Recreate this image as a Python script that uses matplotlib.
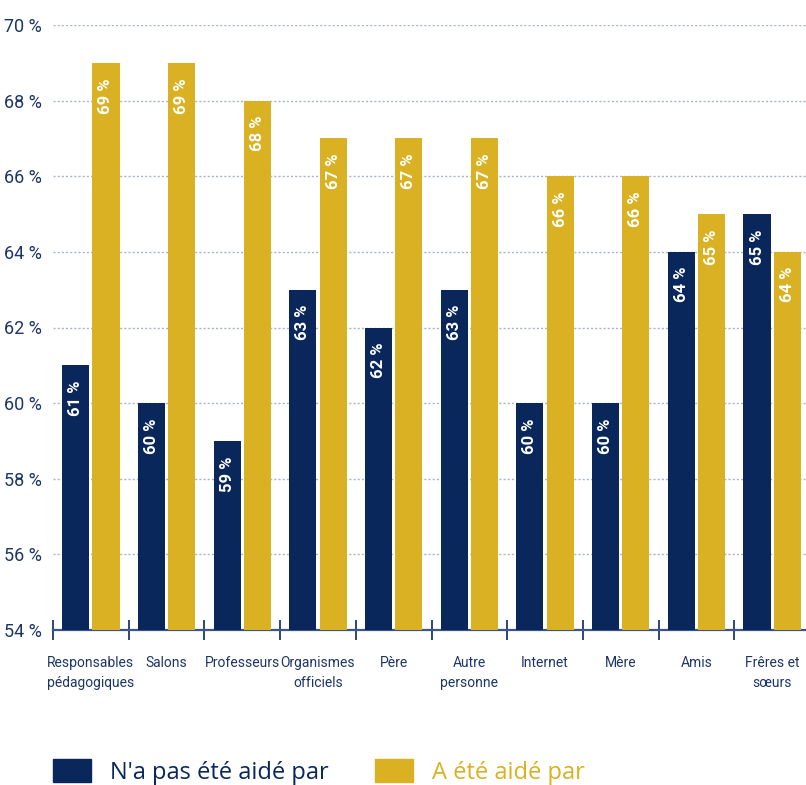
import matplotlib

matplotlib.use("Agg")
import matplotlib.pyplot as plt
import numpy as np
from matplotlib.patches import Rectangle

NAVY = "#0a275c"
GOLD = "#d9b122"
TXT = "#1d3566"

plt.rcParams["font.family"] = ["Roboto", "DejaVu Sans"]

categories = [
    "Responsables\npédagogiques",
    "Salons",
    "Professeurs",
    "Organismes\nofficiels",
    "Père",
    "Autre\npersonne",
    "Internet",
    "Mère",
    "Amis",
    "Frêres et\nsœurs",
]
not_helped = [61, 60, 59, 63, 62, 63, 60, 60, 64, 65]
helped = [69, 69, 68, 67, 67, 67, 66, 66, 65, 64]
yticks = [54, 56, 58, 60, 62, 64, 66, 68, 70]

fig = plt.figure(figsize=(8.06, 7.85), dpi=100)
ax = fig.add_axes([53 / 806, 1 - 630 / 785, 757 / 806, 605 / 785])

x = np.arange(len(categories))
off, w = 0.2, 0.357
ax.bar(x - off, np.array(not_helped) - 54, w, bottom=54, color=NAVY, zorder=3)
ax.bar(x + off, np.array(helped) - 54, w, bottom=54, color=GOLD, zorder=3)

for xi, a, b in zip(x, not_helped, helped):
    for xx, v in ((xi - off, a), (xi + off, b)):
        ax.text(xx, v - 0.4, f"{v} %", rotation=90, ha="center", va="top",
                color="white", fontsize=12, weight="bold", zorder=4)

ax.set_xlim(-0.5, len(categories) - 0.5)
ax.set_ylim(54, 70)
ax.set_yticks(yticks)
ax.set_yticklabels([f"{t} %" for t in yticks], color=TXT, fontsize=13)
ax.tick_params(axis="y", length=0, pad=8)
for t in yticks[1:]:
    ax.axhline(t, color="#aab4c6", lw=1, ls=(0, (1.5, 1.5)), zorder=1)

ax.set_xticks(np.arange(len(categories) + 1) - 0.5)
ax.set_xticklabels([])
ax.tick_params(axis="x", direction="inout", length=14, width=1.2, color=NAVY)
for xi, lab in zip(x, categories):
    ax.text(xi, 53.3, lab, ha="center", va="top", color=TXT, fontsize=10,
            linespacing=1.5)

for s in ("top", "right", "left"):
    ax.spines[s].set_visible(False)
ax.spines["bottom"].set_color("#3c5488")
ax.spines["bottom"].set_linewidth(1.6)

# legend along the bottom edge
fig.patches.append(Rectangle((53 / 806, 1 - 782 / 785), 38 / 806, 23 / 785,
                             transform=fig.transFigure, color=NAVY))
fig.text(110 / 806, 1 - 773 / 785, "N'a pas été aidé par", color=NAVY,
         fontsize=17, va="center", family="Open Sans")
fig.patches.append(Rectangle((375 / 806, 1 - 782 / 785), 38 / 806, 23 / 785,
                             transform=fig.transFigure, color=GOLD))
fig.text(432 / 806, 1 - 773 / 785, "A été aidé par", color=GOLD,
         fontsize=17, va="center", family="Open Sans")

fig.savefig("out.png", dpi=100)
